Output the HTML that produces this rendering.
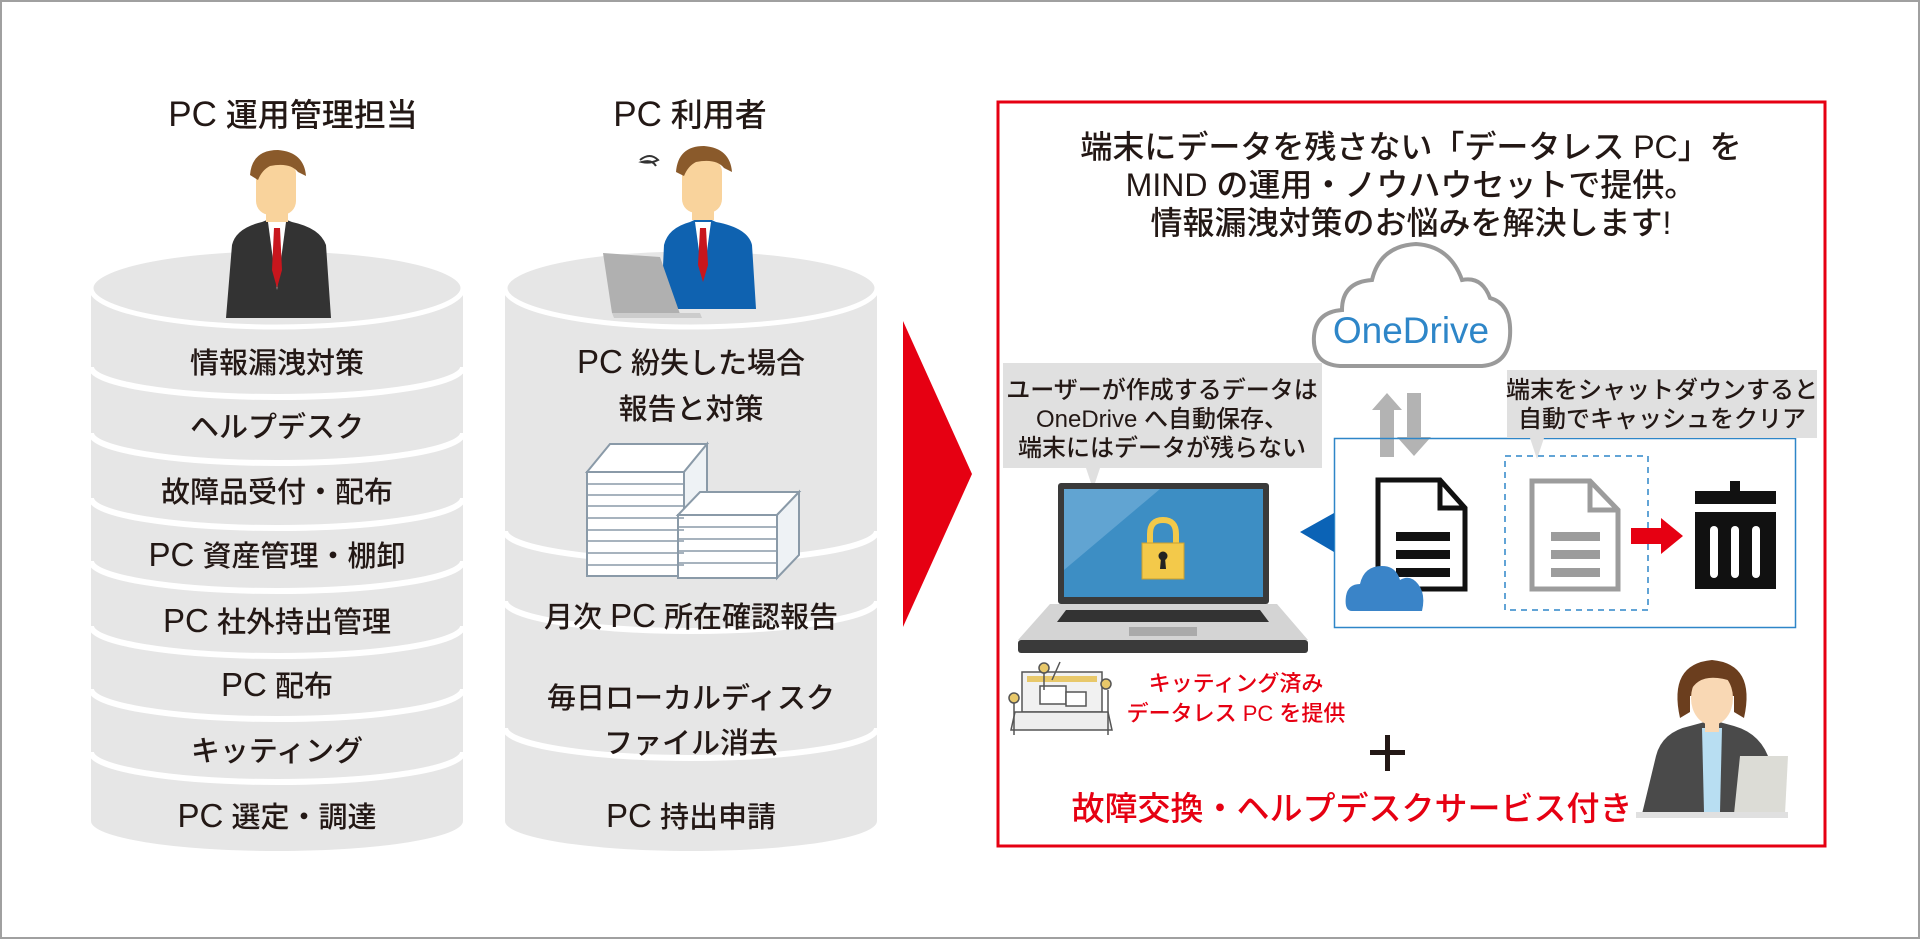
<!DOCTYPE html>
<html><head><meta charset="utf-8"><style>
html,body{margin:0;padding:0;background:#fff;}
svg{display:block;}
text{font-family:"Liberation Sans","Noto Sans CJK JP",sans-serif;fill:#231815;font-weight:500;}
</style></head><body>
<svg width="1920" height="940" viewBox="0 0 1920 940" xmlns="http://www.w3.org/2000/svg">
<rect x="1" y="1" width="1918" height="937" fill="#fff" stroke="#a0a0a0" stroke-width="2"/>

<!-- Left cylinder -->
<g>
<path d="M91 288 L91 821 A186 30 0 0 0 463 821 L463 288 Z" fill="#e6e6e6"/>
<ellipse cx="277" cy="288" rx="186" ry="39" fill="#e6e6e6" stroke="#fff" stroke-width="5"/>
<g fill="none" stroke="#fff" stroke-width="6">
<path d="M91 367 A186 30 0 0 0 463 367"/>
<path d="M91 433 A186 30 0 0 0 463 433"/>
<path d="M91 498 A186 30 0 0 0 463 498"/>
<path d="M91 561 A186 30 0 0 0 463 561"/>
<path d="M91 626 A186 30 0 0 0 463 626"/>
<path d="M91 689 A186 30 0 0 0 463 689"/>
<path d="M91 752 A186 30 0 0 0 463 752"/>
</g>
<g font-size="29" text-anchor="middle">
<text x="277" y="373">情報漏洩対策</text>
<text x="277" y="437">ヘルプデスク</text>
<text x="277" y="502">故障品受付・配布</text>
<text x="277" y="566"><tspan font-size="33">PC</tspan> 資産管理・棚卸</text>
<text x="277" y="632"><tspan font-size="33">PC</tspan> 社外持出管理</text>
<text x="277" y="696"><tspan font-size="33">PC</tspan> 配布</text>
<text x="277" y="761">キッティング</text>
<text x="277" y="827"><tspan font-size="33">PC</tspan> 選定・調達</text>
</g>
</g>
<text x="293" y="126" font-size="32" text-anchor="middle"><tspan font-size="35">PC</tspan> 運用管理担当</text>

<!-- Left man -->
<g>
<path d="M226 318 L232 245 Q236 228 262 222 L277 216 L292 222 Q320 228 326 245 L331 318 Z" fill="#333"/>
<path d="M268 222 L277 290 L286 222 Z" fill="#fff"/>
<path d="M274 228 L280 228 L282 270 L277 288 L272 270 Z" fill="#c8161d"/>
<rect x="256" y="160" width="40" height="55" rx="14" fill="#f9d39c"/>
<rect x="266" y="200" width="22" height="22" fill="#f9d39c"/>
<path d="M250 175 Q252 150 278 150 Q304 152 306 176 L298 172 Q290 162 270 166 Q262 170 258 180 Z" fill="#8a5a2b"/>
</g>

<!-- Right cylinder -->
<g>
<path d="M505 288 L505 821 A186 30 0 0 0 877 821 L877 288 Z" fill="#e6e6e6"/>
<ellipse cx="691" cy="288" rx="186" ry="39" fill="#e6e6e6" stroke="#fff" stroke-width="5"/>
<g fill="none" stroke="#fff" stroke-width="6">
<path d="M505 531 A186 30 0 0 0 877 531"/>
<path d="M505 601 A186 30 0 0 0 877 601"/>
<path d="M505 728 A186 30 0 0 0 877 728"/>
</g>
<g font-size="29" text-anchor="middle">
<text x="691" y="373"><tspan font-size="33">PC</tspan> 紛失した場合</text>
<text x="691" y="419">報告と対策</text>
<text x="691" y="627">月次 <tspan font-size="33">PC</tspan> 所在確認報告</text>
<text x="691" y="708">毎日ローカルディスク</text>
<text x="691" y="753">ファイル消去</text>
<text x="691" y="827"><tspan font-size="33">PC</tspan> 持出申請</text>
</g>
<g stroke="#8a9aa8" stroke-width="2" fill="#fff">
<path d="M587 472 L610 444 L707 444 L684 472 Z"/>
<path d="M684 472 L707 444 L707 550 L684 576 Z" fill="#eef2f5"/>
<rect x="587" y="472" width="97" height="104"/>
<path d="M678 515 L700 492 L799 492 L777 515 Z"/>
<path d="M777 515 L799 492 L799 555 L777 578 Z" fill="#eef2f5"/>
<rect x="678" y="515" width="99" height="63"/>
</g>
<g stroke="#8a9aa8" stroke-width="1.5">
<line x1="587" y1="484" x2="684" y2="484"/><line x1="587" y1="495" x2="684" y2="495"/><line x1="587" y1="506" x2="684" y2="506"/><line x1="587" y1="518" x2="684" y2="518"/><line x1="587" y1="530" x2="684" y2="530"/><line x1="587" y1="541" x2="684" y2="541"/><line x1="587" y1="553" x2="684" y2="553"/><line x1="587" y1="565" x2="684" y2="565"/>
<line x1="678" y1="527" x2="777" y2="527"/><line x1="678" y1="539" x2="777" y2="539"/><line x1="678" y1="551" x2="777" y2="551"/><line x1="678" y1="563" x2="777" y2="563"/>
</g>
</g>
<text x="690" y="126" font-size="32" text-anchor="middle"><tspan font-size="35">PC</tspan> 利用者</text>

<!-- Right man -->
<g>
<path d="M661 309 L664 245 Q668 228 690 222 L703 216 L716 222 Q748 228 752 245 L756 309 Z" fill="#0f62b0"/>
<path d="M695 222 L703 280 L711 222 Z" fill="#fff"/>
<path d="M700 228 L706 228 L708 265 L703 282 L698 265 Z" fill="#c8161d"/>
<rect x="682" y="158" width="40" height="55" rx="14" fill="#f9d39c"/>
<rect x="692" y="198" width="22" height="22" fill="#f9d39c"/>
<path d="M676 172 Q678 146 704 146 Q730 148 732 172 L724 168 Q716 158 696 162 Q688 166 684 176 Z" fill="#8a5a2b"/>
<path d="M603 253 L660 257 L680 314 L612 313 Z" fill="#b0b0b0"/>
<path d="M612 313 L700 313 L702 318 L614 318 Z" fill="#ccc"/>
<path d="M640 160 q10 -8 18 0 q-8 4 -16 2 q10 -3 14 4" stroke="#333" fill="none" stroke-width="2"/>
</g>

<!-- Red arrow -->
<path d="M903 321 L972 474 L903 627 Z" fill="#e60012"/>

<!-- Red box -->
<rect x="998" y="102" width="827" height="744" fill="none" stroke="#e60012" stroke-width="3"/>
<g font-size="32" text-anchor="middle">
<text x="1411" y="158">端末にデータを残さない「データレス PC」を</text>
<text x="1411" y="196">MIND の運用・ノウハウセットで提供。</text>
<text x="1411" y="234">情報漏洩対策のお悩みを解決します!</text>
</g>

<!-- Cloud -->
<path d="M1340 366 Q1312 364 1314 336 Q1316 312 1342 310 Q1342 282 1372 280 Q1380 246 1416 244 Q1450 246 1462 280 Q1482 276 1490 298 Q1512 304 1510 336 Q1508 364 1482 366 Z" fill="#fff" stroke="#9a9a9a" stroke-width="4"/>
<text x="1411" y="343" font-size="37" text-anchor="middle" style="fill:#2e86c8">OneDrive</text>

<path d="M1372 410 L1387 393 L1402 410 L1394 410 L1394 457 L1380 457 L1380 410 Z" fill="#b3b3b3"/>
<path d="M1407 393 L1421 393 L1421 437 L1431 437 L1414 456 L1397 437 L1407 437 Z" fill="#b3b3b3"/>

<rect x="1334.5" y="438.5" width="461" height="189" fill="none" stroke="#2e86c8" stroke-width="1.5"/>
<path d="M1300 532 L1334 513 L1334 552 Z" fill="#0b63b6"/>

<rect x="1003" y="363" width="319" height="105" fill="#e0e0e0"/>
<path d="M1086 468 L1100 468 L1093 489 Z" fill="#e0e0e0"/>
<g font-size="24" text-anchor="middle">
<text x="1162" y="398">ユーザーが作成するデータは</text>
<text x="1162" y="427">OneDrive へ自動保存、</text>
<text x="1162" y="456">端末にはデータが残らない</text>
</g>
<rect x="1507" y="370" width="310" height="68" fill="#e0e0e0"/>
<path d="M1530 438 L1544 438 L1537 459 Z" fill="#e0e0e0"/>
<g font-size="24" text-anchor="middle">
<text x="1662" y="398">端末をシャットダウンすると</text>
<text x="1662" y="427">自動でキャッシュをクリア</text>
</g>

<!-- laptop -->
<g>
<rect x="1058" y="483" width="211" height="121" rx="3" fill="#3a3a3a"/>
<rect x="1064" y="489" width="199" height="108" fill="#3d8ec4"/>
<path d="M1064 489 L1160 489 L1064 570 Z" fill="#6aaad6" opacity="0.8"/>
<path d="M1050 604 L1277 604 L1308 640 L1018 640 Z" fill="#d4d4d4"/>
<path d="M1066 610 L1260 610 L1269 622 L1057 622 Z" fill="#333"/>
<rect x="1129" y="627" width="68" height="9" fill="#aaa"/>
<rect x="1018" y="640" width="290" height="13" rx="3" fill="#3a3a3a"/>
<path d="M1150 545 L1150 534 Q1150 520 1163 520 Q1176 520 1176 534 L1176 545" fill="none" stroke="#f3c94a" stroke-width="6"/>
<rect x="1142" y="543" width="42" height="36" fill="#f3c94a" stroke="#c9a030"/>
<circle cx="1163" cy="556" r="4.5" fill="#222"/>
<path d="M1161 558 L1165 558 L1166 569 L1160 569 Z" fill="#222"/>
</g>

<path d="M1378 480 L1440 480 L1465 508 L1465 589 L1378 589 Z" fill="#fff" stroke="#111" stroke-width="5"/>
<path d="M1440 480 L1440 508 L1465 508" fill="none" stroke="#111" stroke-width="5"/>
<rect x="1396" y="532" width="54" height="9" fill="#111"/>
<rect x="1396" y="550" width="54" height="9" fill="#111"/>
<rect x="1396" y="568" width="54" height="9" fill="#111"/>
<path d="M1352 611 Q1344 611 1346 596 Q1348 584 1360 584 Q1364 566 1382 566 Q1396 566 1400 580 Q1410 574 1418 584 Q1426 594 1422 611 Z" fill="#3a84c8"/>

<rect x="1505" y="456" width="143" height="154" fill="none" stroke="#2e86c8" stroke-width="1.5" stroke-dasharray="6 5"/>
<path d="M1532 481 L1590 481 L1618 510 L1618 589 L1532 589 Z" fill="#fff" stroke="#9c9c9c" stroke-width="5"/>
<path d="M1590 481 L1590 510 L1618 510" fill="none" stroke="#9c9c9c" stroke-width="5"/>
<rect x="1551" y="532" width="49" height="9" fill="#9c9c9c"/>
<rect x="1551" y="550" width="49" height="9" fill="#9c9c9c"/>
<rect x="1551" y="568" width="49" height="9" fill="#9c9c9c"/>

<path d="M1631 528 L1661 528 L1661 518 L1683 536 L1661 554 L1661 544 L1631 544 Z" fill="#e60012"/>

<rect x="1730" y="481" width="10" height="14" fill="#111"/>
<rect x="1695" y="491" width="81" height="13" fill="#111"/>
<rect x="1695" y="512" width="81" height="77" fill="#111"/>
<rect x="1710" y="526" width="8" height="52" rx="4" fill="#fff"/>
<rect x="1731" y="526" width="8" height="52" rx="4" fill="#fff"/>
<rect x="1752" y="526" width="8" height="52" rx="4" fill="#fff"/>

<g stroke="#555" stroke-width="1.5" fill="none">
<rect x="1022" y="672" width="80" height="40" fill="#f1f1f1"/>
<rect x="1027" y="676" width="70" height="6" fill="#e8c86a" stroke="none"/>
<rect x="1040" y="686" width="26" height="18" fill="#fff"/>
<rect x="1066" y="692" width="20" height="14" fill="#fff"/>
<path d="M1015 712 L1108 712 L1112 730 L1011 730 Z" fill="#eee"/>
<circle cx="1044" cy="668" r="5" fill="#e8c86a"/>
<path d="M1044 673 L1044 690 M1060 662 L1052 680"/>
<circle cx="1014" cy="698" r="5" fill="#e8c86a"/>
<path d="M1014 703 L1014 735 M1108 690 L1108 735"/>
<circle cx="1106" cy="684" r="5" fill="#e8c86a"/>
</g>
<g font-size="22" text-anchor="middle">
<text x="1236" y="691" style="fill:#e60012">キッティング済み</text>
<text x="1236" y="721" style="fill:#e60012">データレス PC を提供</text>
</g>
<rect x="1385" y="735" width="5" height="36" fill="#231815"/>
<rect x="1370" y="750" width="35" height="5" fill="#231815"/>
<text x="1352" y="820" font-size="33" text-anchor="middle" style="fill:#e60012">故障交換・ヘルプデスクサービス付き</text>

<!-- woman -->
<g>
<path d="M1642 814 L1656 756 Q1662 732 1690 726 L1712 720 L1734 726 Q1762 734 1770 762 L1782 814 Z" fill="#4a4a4a"/>
<path d="M1702 728 L1722 728 L1720 812 L1704 812 Z" fill="#b8def2"/>
<path d="M1680 718 Q1668 664 1712 660 Q1756 664 1744 718 L1734 712 L1734 696 L1690 696 L1690 712 Z" fill="#6b3e1e"/>
<ellipse cx="1712" cy="698" rx="21" ry="27" fill="#f9d8b4"/>
<rect x="1705" y="720" width="14" height="12" fill="#f9d8b4"/>
<path d="M1690 692 Q1700 670 1734 682 L1732 674 Q1712 664 1690 680 Z" fill="#6b3e1e"/>
<path d="M1740 756 L1788 756 L1785 814 L1734 814 Z" fill="#dcdcd6"/>
<rect x="1636" y="812" width="152" height="6" fill="#e0e0e0"/>
</g>
</svg>
</body></html>
